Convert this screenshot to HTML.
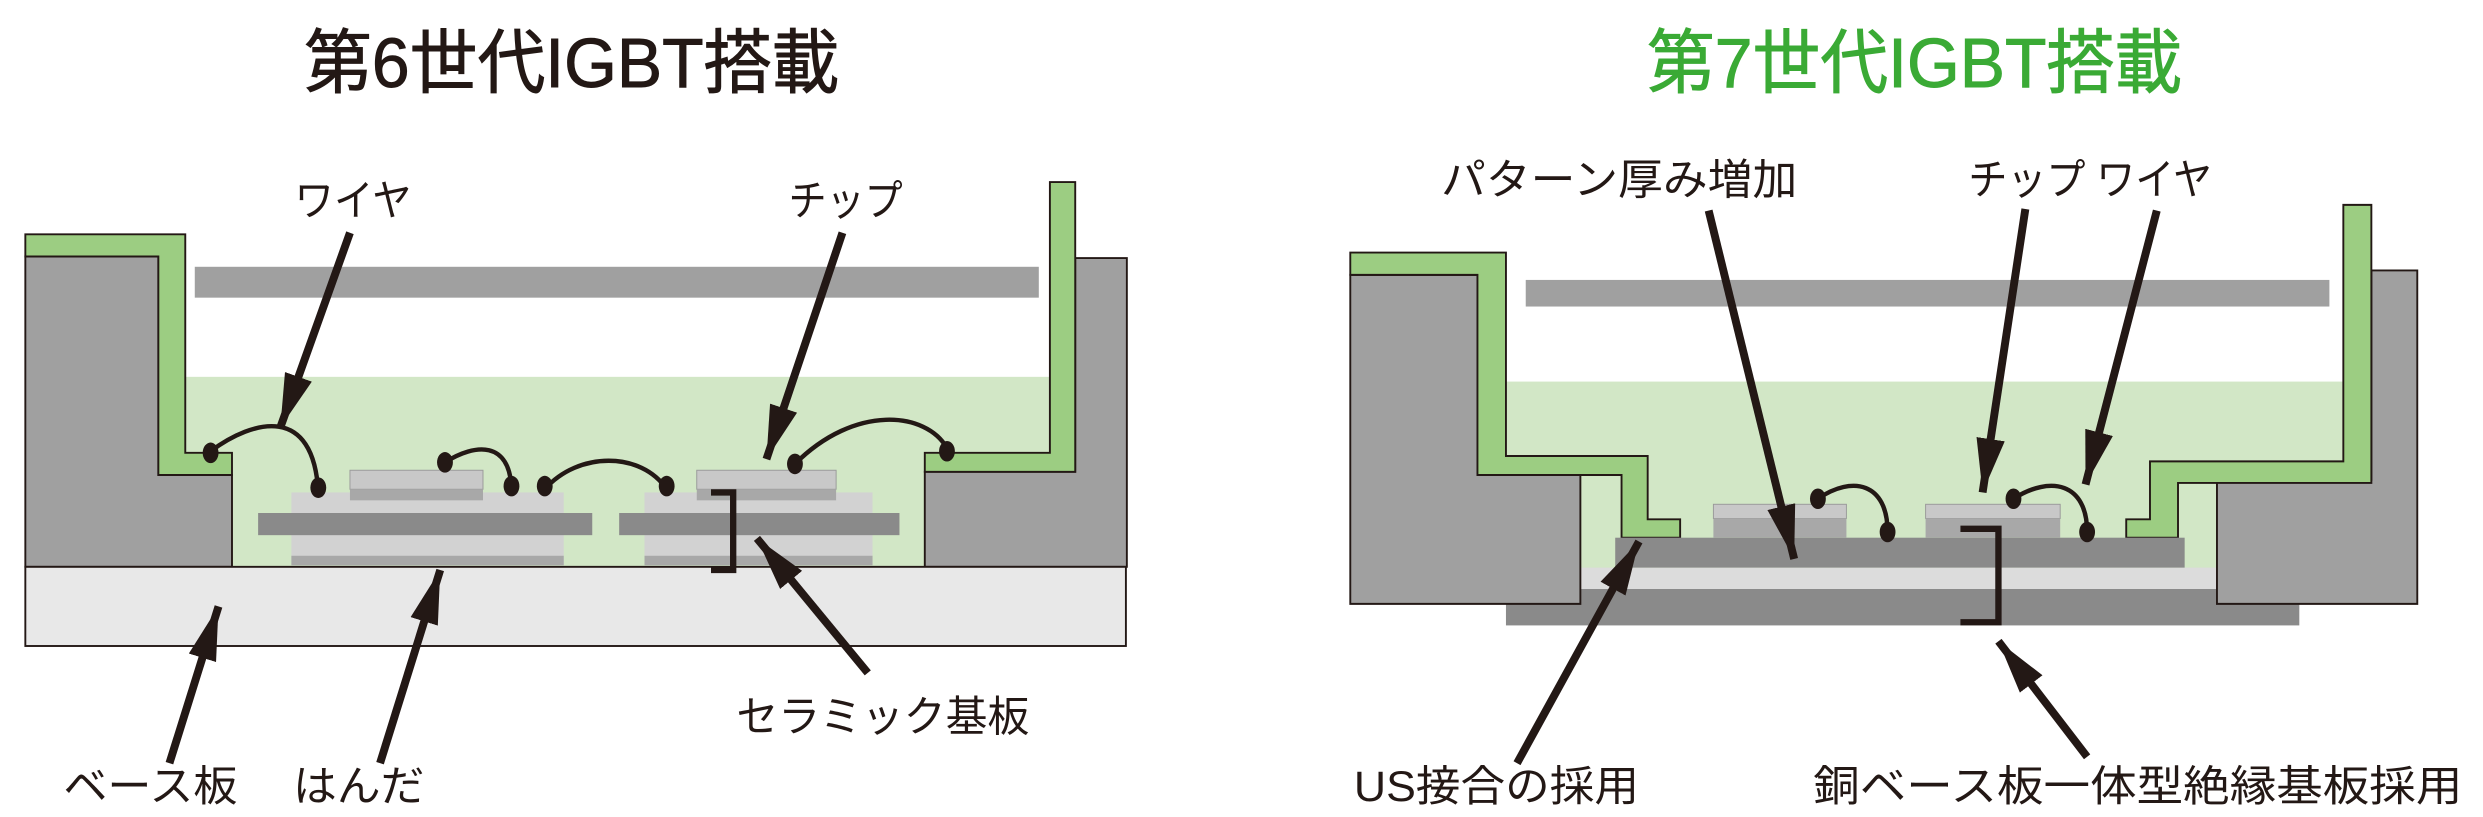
<!DOCTYPE html>
<html><head><meta charset="utf-8"><style>
html,body{margin:0;padding:0;background:#fff;}
svg{display:block;}
text{font-family:"Liberation Sans","Noto Sans CJK JP",sans-serif;fill:#231815;}
</style></head><body>
<svg width="2483" height="817" viewBox="0 0 1568 516" preserveAspectRatio="none" xmlns="http://www.w3.org/2000/svg">
<defs>
<marker id="ah" markerUnits="userSpaceOnUse" markerWidth="34" markerHeight="18" viewBox="0 0 34 18" refX="34" refY="9" orient="auto">
<path d="M0,0 L34,9 L0,18 Z" fill="#231815"/>
</marker>
</defs>
<text x="192" y="55" font-size="44" stroke="#231815" stroke-width="0.6" textLength="338" lengthAdjust="spacingAndGlyphs">第6世代IGBT搭載</text>
<text x="1040" y="55" font-size="44" stroke="#3aaa35" stroke-width="0.6" textLength="338" lengthAdjust="spacingAndGlyphs" style="fill:#3aaa35">第7世代IGBT搭載</text>

<g stroke="#231815" stroke-width="1.2">
<rect x="117" y="238" width="546" height="120" fill="#d2e7c6" stroke="none"/>
<rect x="123" y="168.5" width="533" height="19.5" fill="#a0a0a0" stroke="none"/>
<path d="M16,162 L100,162 L100,300 L146.5,300 L146.5,358 L16,358 Z" fill="#a0a0a0"/>
<path d="M16,148 L117,148 L117,286 L146.5,286 L146.5,300 L100,300 L100,162 L16,162 Z" fill="#9ccd82"/>
<path d="M679,163 L711.6,163 L711.6,358 L584,358 L584,298 L679,298 Z" fill="#a0a0a0"/>
<path d="M663,115 L679,115 L679,298 L584,298 L584,286 L663,286 Z" fill="#9ccd82"/>
<rect x="16" y="358" width="695" height="50" fill="#e8e8e8"/>
</g>
<g stroke="none">
<rect x="184" y="311" width="172" height="46" fill="#d2d2d2"/>
<rect x="184" y="351" width="172" height="6" fill="#a8a8a8"/>
<rect x="163" y="324" width="211" height="14" fill="#8a8a8a"/>
<rect x="221" y="297" width="84" height="12" fill="#c8c8c8" stroke="#999" stroke-width="0.6"/>
<rect x="221" y="309" width="84" height="7" fill="#a8a8a8"/>
<rect x="407" y="311" width="144" height="46" fill="#d2d2d2"/>
<rect x="407" y="351" width="144" height="6" fill="#a8a8a8"/>
<rect x="391" y="324" width="177" height="14" fill="#8a8a8a"/>
<rect x="440" y="297" width="88" height="12" fill="#c8c8c8" stroke="#999" stroke-width="0.6"/>
<rect x="440" y="309" width="88" height="7" fill="#a8a8a8"/>
</g>
<path d="M449,311 L463,311 L463,360 L449,360" fill="none" stroke="#231815" stroke-width="4"/>
<g fill="none" stroke="#231815" stroke-width="2.8">
<path d="M133,285 C160,265 198,255 201,311"/>
<path d="M281,292 C300,280 322,278 323,309"/>
<path d="M344,309 C365,285 405,285 421,309"/>
<path d="M502,293 C540,255 585,260 598,283"/>
</g>
<g fill="#231815">
<ellipse cx="133" cy="286" rx="5" ry="6.5"/><ellipse cx="201" cy="308" rx="5" ry="6.5"/>
<ellipse cx="281" cy="292" rx="5" ry="6.5"/><ellipse cx="323" cy="307" rx="5" ry="6.5"/>
<ellipse cx="344" cy="307" rx="5" ry="6.5"/><ellipse cx="421" cy="307" rx="5" ry="6.5"/>
<ellipse cx="502" cy="293" rx="5" ry="6.5"/><ellipse cx="598" cy="285" rx="5" ry="6.5"/>
</g>
<g stroke="#231815" stroke-width="5" marker-end="url(#ah)">
<line x1="221" y1="147" x2="177" y2="270"/>
<line x1="532" y1="147" x2="484" y2="290"/>
<line x1="107" y1="482" x2="138" y2="383"/>
<line x1="240" y1="482" x2="278" y2="360"/>
<line x1="548" y1="425" x2="478" y2="340"/>
</g>
<g font-size="27">
<text x="186" y="136" textLength="74" lengthAdjust="spacingAndGlyphs">ワイヤ</text>
<text x="498" y="136" textLength="72" lengthAdjust="spacingAndGlyphs">チップ</text>
<text x="40" y="506" textLength="110" lengthAdjust="spacingAndGlyphs">ベース板</text>
<text x="185" y="506" textLength="83" lengthAdjust="spacingAndGlyphs">はんだ</text>
<text x="465" y="462" textLength="185" lengthAdjust="spacingAndGlyphs">セラミック基板</text>
</g>

<g stroke="#231815" stroke-width="1.2">
<rect x="951" y="241" width="529" height="118" fill="#d2e7c6" stroke="none"/>
<rect x="963.5" y="176.8" width="507.5" height="16.8" fill="#a0a0a0" stroke="none"/>
<rect x="951" y="372" width="501" height="23" fill="#8a8a8a" stroke="none"/>
<rect x="998" y="358.5" width="402" height="13.5" fill="#dcdcdc" stroke="none"/>
<path d="M852.7,173.6 L933,173.6 L933,300 L998,300 L998,381.4 L852.7,381.4 Z" fill="#a0a0a0"/>
<path d="M852.7,159.5 L951,159.5 L951,288 L1040.5,288 L1040.5,328 L1061,328 L1061,339.6 L1024,339.6 L1024,300 L933,300 L933,173.6 L852.7,173.6 Z" fill="#9ccd82"/>
<path d="M1497.5,170.8 L1526.5,170.8 L1526.5,381.4 L1400,381.4 L1400,303 L1497.5,303 Z" fill="#a0a0a0"/>
<path d="M1479.8,129.4 L1497.5,129.4 L1497.5,305 L1375.4,305 L1375.4,339.6 L1342.7,339.6 L1342.7,328 L1357.7,328 L1357.7,291.4 L1479.8,291.4 Z" fill="#9ccd82"/>
</g>
<rect x="1020" y="339.6" width="359.6" height="18.9" fill="#8a8a8a"/>
<rect x="1082" y="318.5" width="84" height="9" fill="#c8c8c8" stroke="#999" stroke-width="0.6"/>
<rect x="1082" y="327.5" width="84" height="12" fill="#a8a8a8"/>
<rect x="1216" y="318.5" width="85" height="9" fill="#c8c8c8" stroke="#999" stroke-width="0.6"/>
<rect x="1216" y="327.5" width="85" height="12" fill="#a8a8a8"/>
<path d="M1238,334 L1262,334 L1262,393 L1238,393" fill="none" stroke="#231815" stroke-width="4"/>
<g fill="none" stroke="#231815" stroke-width="2.8">
<path d="M1148,315 C1170,300 1192,305 1192,336"/>
<path d="M1271.5,315 C1295,300 1318,305 1318,336"/>
</g>
<g fill="#231815">
<ellipse cx="1148" cy="315" rx="5" ry="6.5"/><ellipse cx="1192" cy="336" rx="5" ry="6.5"/>
<ellipse cx="1271.5" cy="315" rx="5" ry="6.5"/><ellipse cx="1318" cy="336" rx="5" ry="6.5"/>
</g>
<g stroke="#231815" stroke-width="5" marker-end="url(#ah)">
<line x1="1079" y1="133" x2="1133" y2="353"/>
<line x1="1279" y1="132" x2="1252" y2="311"/>
<line x1="1362" y1="133" x2="1317" y2="306"/>
<line x1="958" y1="482" x2="1035" y2="342"/>
<line x1="1318" y1="478" x2="1262" y2="405"/>
</g>
<g font-size="27">
<text x="910" y="123" textLength="225" lengthAdjust="spacingAndGlyphs">パターン厚み増加</text>
<text x="1243" y="123" textLength="154" lengthAdjust="spacingAndGlyphs">チップ ワイヤ</text>
<text x="855" y="506" textLength="180" lengthAdjust="spacingAndGlyphs">US接合の採用</text>
<text x="1145" y="506" textLength="410" lengthAdjust="spacingAndGlyphs">銅ベース板一体型絶縁基板採用</text>
</g>
</svg>
</body></html>
